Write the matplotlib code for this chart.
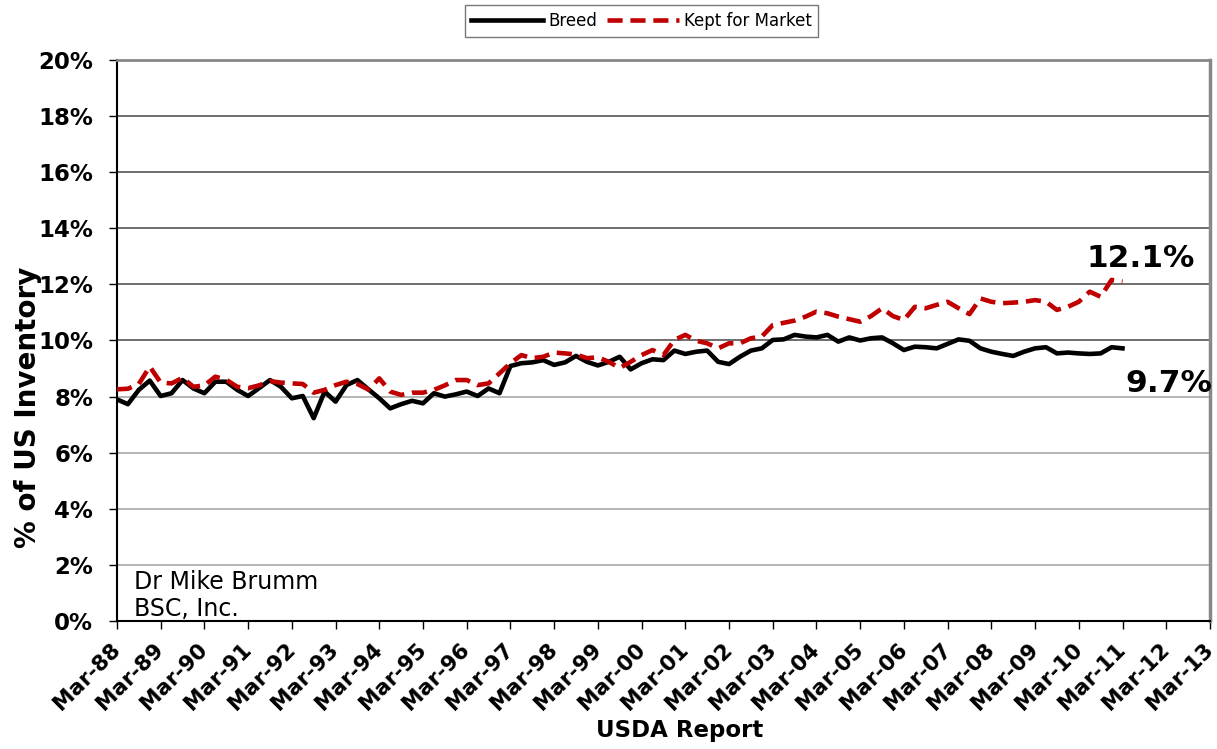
import numpy as np
import matplotlib
matplotlib.use("Agg")
import matplotlib.pyplot as plt
from matplotlib.ticker import FixedLocator, FuncFormatter

# quarterly USDA reports, Mar-88 .. Mar-11 (% of US inventory)
breed = [7.90, 7.73, 8.24, 8.57, 8.02, 8.12, 8.59, 8.29, 8.12, 8.53,
         8.53, 8.24, 8.02, 8.30, 8.59, 8.35, 7.94, 8.02, 7.23, 8.18,
         7.82, 8.41, 8.59, 8.26, 7.94, 7.58, 7.73, 7.85, 7.76, 8.12,
         8.00, 8.08, 8.18, 8.02, 8.29, 8.12, 9.09, 9.19, 9.22, 9.30,
         9.13, 9.22, 9.45, 9.24, 9.11, 9.24, 9.42, 8.97, 9.19, 9.33,
         9.30, 9.64, 9.52, 9.60, 9.64, 9.24, 9.16, 9.42, 9.64, 9.72,
         10.02, 10.04, 10.20, 10.14, 10.11, 10.20, 9.96, 10.11, 10.00, 10.08,
         10.11, 9.90, 9.66, 9.78, 9.76, 9.72, 9.88, 10.04, 9.99, 9.72,
         9.60, 9.52, 9.45, 9.60, 9.72, 9.76, 9.54, 9.57, 9.54, 9.52,
         9.54, 9.76, 9.72]
market = [8.26, 8.28, 8.45, 9.07, 8.50, 8.47, 8.67, 8.35, 8.40, 8.71,
          8.60, 8.35, 8.30, 8.40, 8.55, 8.50, 8.47, 8.45, 8.14, 8.24,
          8.41, 8.53, 8.45, 8.25, 8.65, 8.18, 8.06, 8.14, 8.14, 8.24,
          8.40, 8.59, 8.59, 8.41, 8.47, 8.83, 9.19, 9.48, 9.37, 9.42,
          9.57, 9.54, 9.50, 9.37, 9.40, 9.24, 9.02, 9.24, 9.48, 9.66,
          9.48, 10.02, 10.20, 9.99, 9.90, 9.72, 9.90, 9.90, 10.08, 10.14,
          10.55, 10.63, 10.71, 10.85, 11.03, 10.97, 10.85, 10.76, 10.67, 10.87,
          11.15, 10.87, 10.73, 11.20, 11.15, 11.27, 11.38, 11.15, 10.94, 11.50,
          11.38, 11.33, 11.35, 11.38, 11.44, 11.38, 11.09, 11.20, 11.38, 11.74,
          11.56, 12.16, 12.10]
years = list(range(1988, 2014))
year_labels = ["Mar-%02d" % (y % 100) for y in years]
y_ticks = [0, 2, 4, 6, 8, 10, 12, 14, 16, 18, 20]

fig = plt.figure(figsize=(12.17, 7.49), dpi=100)
ax = fig.add_axes([0.0961, 0.1709, 0.8981, 0.7490])

q = np.arange(len(breed))
ax.plot(q, breed, color="black", lw=3.3, label="Breed", zorder=3)
ax.plot(q, market, color="#c00000", lw=3.3, dashes=(3.3, 1.7),
        label="Kept for Market", zorder=4)

ax.set_xlim(0, 4 * (len(years) - 1))
ax.set_ylim(0, 20)
ax.xaxis.set_major_locator(FixedLocator([4 * i for i in range(len(years))]))
ax.set_xticklabels(year_labels, rotation=45, ha="right", va="center",
                   rotation_mode="anchor", fontweight="bold", fontsize=15.5)
ax.yaxis.set_major_locator(FixedLocator(y_ticks))
ax.yaxis.set_major_formatter(FuncFormatter(lambda v, p: "%d%%" % v))
for lab in ax.get_yticklabels():
    lab.set_fontweight("bold")
    lab.set_fontsize(16.5)
ax.tick_params(axis="both", direction="out", length=6, width=1, color="black")
ax.tick_params(axis="x", pad=12)
ax.tick_params(axis="y", pad=11)

ax.yaxis.grid(True, lw=1.2)
for v, gl in zip(y_ticks, ax.get_ygridlines()):
    gl.set_color("#555555" if v >= 10 else "#aaaaaa")
ax.set_axisbelow(True)

ax.spines["left"].set_color("black")
ax.spines["bottom"].set_color("black")
ax.spines["left"].set_linewidth(1.5)
ax.spines["bottom"].set_linewidth(1.5)
ax.spines["top"].set_color("#888888")
ax.spines["right"].set_color("#888888")
ax.spines["top"].set_linewidth(2)
ax.spines["right"].set_linewidth(2.5)

ax.set_ylabel("% of US Inventory", fontsize=20, fontweight="bold")
ax.yaxis.set_label_coords(-0.069, 0.381)
ax.set_xlabel("USDA Report", fontsize=16.5, fontweight="bold")
ax.xaxis.set_label_coords(0.515, -0.174)

ax.text(q[-1] - 3.3, market[-1] + 0.3, "%.1f%%" % market[-1], fontsize=22.5,
        fontweight="bold", ha="left", va="bottom")
ax.text(q[-1] + 0.3, breed[-1] - 0.75, "%.1f%%" % breed[-1], fontsize=22.5,
        fontweight="bold", ha="left", va="top")
ax.text(1.6, 1.14, "Dr Mike Brumm", fontsize=17, ha="left", va="baseline")
ax.text(1.6, 0.18, "BSC, Inc.", fontsize=17, ha="left", va="baseline")

leg = fig.legend(loc="upper center", bbox_to_anchor=(0.527, 0.993), ncol=2,
                 fontsize=12, frameon=True, fancybox=False, edgecolor="#555555",
                 handlelength=4.3, handletextpad=0.3, columnspacing=0.6,
                 borderpad=0.4, borderaxespad=0)
leg.get_frame().set_linewidth(1)

fig.savefig("out.png", dpi=100)
